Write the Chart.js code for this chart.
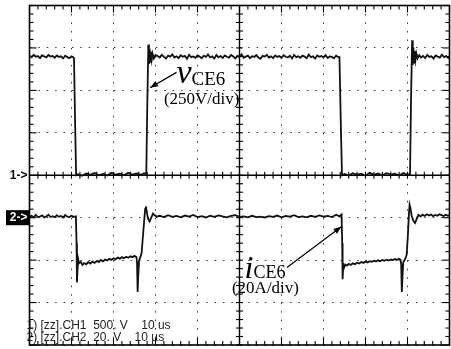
<!DOCTYPE html>
<html>
<head>
<meta charset="utf-8">
<script src="https://cdn.jsdelivr.net/npm/chart.js@4/dist/chart.umd.min.js"></script>
<style>
html,body{margin:0;padding:0;background:#fff;}
canvas{display:block;}
</style>
</head>
<body>
<canvas id="c" width="451" height="349"></canvas>
<script>
// ---- axis setup (oscilloscope: 10 us/div, CH1 250 V/div, CH2 20 A/div) ----
const timeRange = [0, 100];        // us
const timeDiv = 10;                // us per division
const voltRange = [-1000, 1000];   // V (CH1 zero at centre)
const voltDiv = 250;               // V per division
const ampRange = [-60, 100];       // A (CH2 zero one division below centre)

// ---- CH1: v_CE6 trace [time us, volts] ----
const vceTrace = [
  [0,705],[0.5,695],[1,710],[1.5,698],[2,702],[2.5,690],[3,707],[3.5,700],[4,694],[4.5,708],
  [5,699],[5.5,703],[6,692],[6.5,706],[7,697],[7.5,701],[8,688],[8.5,704],[9,696],[9.5,690],
  [10,700],[10.4,695],[10.6,690],[10.85,320],[11.1,0],
  [11.5,6],[12.5,-3],[13.5,10],[14.5,2],[15.5,13],[16.5,0],[17.5,8],[18.5,-2],[19.5,14],[20.5,3],
  [21.5,9],[22.5,0],[23.5,15],[24.5,4],[25.5,10],[26.5,2],[27.3,12],[27.8,5],
  [28.05,420],[28.3,770],[28.45,655],[28.6,745],[28.75,668],[28.9,728],[29.1,682],[29.3,716],[29.6,688],[30,708],
  [30.5,702],[31,694],[31.5,709],[32,697],[32.5,688],[33,705],[33.5,699],[34,712],[34.5,693],[35,701],
  [35.5,690],[36,707],[36.5,698],[37,703],[37.5,686],[38,710],[38.5,696],[39,700],[39.5,692],[40,706],
  [40.5,699],[41,689],[41.5,704],[42,697],[42.5,711],[43,694],[43.5,700],[44,687],[44.5,708],[45,695],
  [45.5,702],[46,691],[46.5,706],[47,698],[47.5,693],[48,709],[48.5,700],[49,688],[49.5,703],[50,696],
  [50.5,712],[51,692],[51.5,699],[52,705],[52.5,690],[53,701],[53.5,697],[54,708],[54.5,694],[55,686],
  [55.5,703],[56,699],[56.5,710],[57,693],[57.5,700],[58,689],[58.5,706],[59,697],[59.5,702],[60,691],
  [60.5,707],[61,698],[61.5,694],[62,704],[62.5,688],[63,709],[63.5,696],[64,701],[64.5,692],[65,705],
  [65.5,699],[66,690],[66.5,711],[67,695],[67.5,700],[68,687],[68.5,706],[69,698],[69.5,703],[70,694],
  [70.5,708],[71,691],[71.5,700],[72,697],[72.5,689],[73,704],[73.5,696],
  [73.8,696],[74.1,330],[74.4,0],
  [75,8],[76,-2],[77,12],[78,3],[79,9],[80,-3],[81,14],[82,2],[83,10],[84,0],
  [85,12],[86,4],[87,9],[88,-2],[89,13],[90,3],[90.6,8],
  [90.85,460],[91.1,795],[91.25,650],[91.4,752],[91.55,664],[91.7,732],[91.9,680],[92.1,718],[92.4,689],[92.8,707],
  [93.2,694],[93.7,703],[94.2,690],[94.7,709],[95.2,697],[95.7,701],[96.2,688],[96.7,706],[97.2,699],[97.7,693],
  [98.2,710],[98.7,696],[99.2,702],[99.7,691],[100,700]
];

// ---- CH2: i_CE6 trace [time us, amps] ----
const iceTrace = [
  [0,0.4],[0.5,0.9],[1,0.2],[1.5,1.3],[2,0.3],[2.5,0.5],[3,1.1],[3.5,0.1],[4,0.6],[4.5,1.4],
  [5,0.3],[5.5,0.7],[6,0.2],[6.5,1.2],[7,0.4],[7.5,0.8],[8,0.1],[8.5,1.3],[9,0.5],[9.5,0.3],
  [10,0.9],[10.5,0.4],[11.05,0.6],
  [11.2,-12],[11.3,-30.5],[11.45,-24],[11.6,-19.5],[11.8,-21.5],[12.2,-20.8],[12.6,-22.3],[13,-21.4],[13.5,-22],[14,-20.9],
  [14.5,-21.6],[15,-20.7],[15.5,-21.3],[16,-20.4],[16.5,-20.9],[17,-19.9],[17.5,-20.6],[18,-19.7],[18.5,-20.2],[19,-19.4],
  [19.5,-19.9],[20,-19.1],[20.5,-19.6],[21,-18.8],[21.5,-19.3],[22,-18.6],[22.5,-19.1],[23,-18.4],[23.5,-18.9],[24,-18.2],
  [24.5,-18.6],[25,-18.0],[25.45,-18.5],
  [25.6,-21],[25.75,-35],[25.9,-27],[26.1,-20],[26.4,-18.6],[26.7,-16.5],[27.0,-9],[27.3,-1.5],[27.55,4.2],[27.7,5.3],
  [27.9,3.2],[28.2,-0.4],[28.6,-1.8],[29.0,0.1],[29.4,1.9],[29.8,1.1],[30.3,0.5],
  [31,0.9],[32,0.3],[33,1.2],[34,0.4],[35,0.8],[36,0.2],[37,1.0],[38,0.5],[39,1.3],[40,0.3],
  [41,0.7],[42,0.1],[43,0.9],[44,0.4],[45,1.1],[46,0.6],[47,0.2],[48,0.8],[49,1.2],[50,0.4],
  [51,0.6],[52,0.2],[53,0.9],[54,0.3],[55,0.5],[56,0.1],[57,0.7],[58,0.4],[59,1.0],[60,0.2],
  [61,0.8],[62,0.5],[63,1.2],[64,0.3],[65,0.6],[66,0.2],[67,0.9],[68,0.4],[69,1.1],[70,0.5],
  [71,0.8],[72,0.3],[73,1.4],[73.8,0.6],[74.3,1.5],
  [74.45,-12],[74.55,-29],[74.7,-22],[74.9,-23.5],[75.2,-22],[75.6,-22.6],[76,-21.8],[76.5,-22.3],[77,-21.5],[77.5,-21.9],
  [78,-21.2],[78.5,-21.6],[79,-20.9],[79.5,-21.3],[80,-20.7],[80.5,-21.1],[81,-20.5],[81.5,-20.8],[82,-20.3],[82.5,-20.7],
  [83,-20.1],[83.5,-20.5],[84,-19.9],[84.5,-20.3],[85,-19.8],[85.5,-20.2],[86,-19.7],[86.5,-20.0],[87,-19.5],[87.5,-19.9],
  [88,-19.4],[88.35,-19.8],
  [88.5,-22],[88.65,-35],[88.8,-28],[89.0,-21],[89.4,-19.6],[89.8,-17.5],[90.1,-8],[90.35,2],[90.5,6.1],[90.7,4.5],
  [91.0,0.8],[91.4,-1.5],[91.8,-2.5],[92.2,-0.6],[92.6,1.3],[93.1,0.6],
  [93.6,1.4],[94.1,0.8],[94.6,1.6],[95.1,1.0],[95.6,1.5],[96.1,0.7],[96.6,1.3],[97.1,0.9],[97.6,1.6],[98.1,1.2],
  [98.6,0.8],[99.1,1.4],[99.6,0.9],[100,1.2]
];

// ---- texts ----
const ch1Marker = '1->';
const ch2Marker = '2->';
const statusLines = ['1) [zz].CH1  500. V    10 us', '2) [zz].CH2  20. V    10 \u00b5s'];
const vLabel = { main: 'v', sub: 'CE6', scale: '(250V/div)' };
const iLabel = { main: 'i', sub: 'CE6', scale: '(20A/div)' };

// annotation anchors in data units
const vLabelAt = [35.0, 545];       // t, V
const vScaleAt = [32.0, 418];
const vArrow = { from: [35.0, 606], to: [28.7, 516] };
const iLabelAt = [51.2, -28.5];     // t, A
const iScaleAt = [48.2, -35.5];
const iArrow = { from: [61.3, -23.5], to: [74.3, -4.2] };

const minorStep = { t: 2, v: 50 };  // 1/5 division

function seg(ctx, x1, y1, x2, y2){ ctx.beginPath(); ctx.moveTo(x1,y1); ctx.lineTo(x2,y2); ctx.stroke(); }
function arrow(ctx, x1, y1, x2, y2){
  seg(ctx, x1, y1, x2, y2);
  const a = Math.atan2(y2-y1, x2-x1), L = 8, w = 3;
  ctx.beginPath();
  ctx.moveTo(x2, y2);
  ctx.lineTo(x2 - L*Math.cos(a) + w*Math.sin(a), y2 - L*Math.sin(a) - w*Math.cos(a));
  ctx.lineTo(x2 - L*Math.cos(a) - w*Math.sin(a), y2 - L*Math.sin(a) + w*Math.cos(a));
  ctx.closePath(); ctx.fill();
}

const scopeFrame = {
  id: 'scopeFrame',
  beforeDatasetsDraw(chart){
    const {ctx, chartArea:a} = chart;
    const x = chart.scales.x, yv = chart.scales.yv;
    ctx.save();
    ctx.strokeStyle = '#000';
    const cx = x.getPixelForValue((timeRange[0]+timeRange[1])/2);
    const cy = yv.getPixelForValue(0);
    ctx.lineWidth = 1.4;
    seg(ctx, cx, a.top, cx, a.bottom);
    seg(ctx, a.left, cy, a.right, cy);
    ctx.lineWidth = 1.1;
    for (let t = timeRange[0]; t <= timeRange[1]; t += minorStep.t){
      const px = x.getPixelForValue(t);
      const L = (t % timeDiv === 0) ? 7 : 4;
      seg(ctx, px, a.top, px, a.top + L);
      seg(ctx, px, a.bottom - L, px, a.bottom);
      seg(ctx, px, cy - 3.5, px, cy + 3.5);
    }
    for (let v = voltRange[0]; v <= voltRange[1]; v += minorStep.v){
      const py = yv.getPixelForValue(v);
      const L = (v % voltDiv === 0) ? 7 : 4;
      seg(ctx, a.left, py, a.left + L, py);
      seg(ctx, a.right - L, py, a.right, py);
      seg(ctx, cx - 3.5, py, cx + 3.5, py);
    }
    ctx.lineWidth = 1.6;
    ctx.strokeRect(a.left, a.top, a.right - a.left, a.bottom - a.top);
    ctx.restore();
  },
  afterDatasetsDraw(chart){
    const {ctx, chartArea:a} = chart;
    const x = chart.scales.x, yv = chart.scales.yv, yi = chart.scales.yi;
    ctx.save();
    // channel markers
    ctx.fillStyle = '#000';
    ctx.font = 'bold 12px "Liberation Sans", Arial, sans-serif';
    ctx.textBaseline = 'middle';
    ctx.textAlign = 'right';
    ctx.fillText(ch1Marker, a.left - 2, yv.getPixelForValue(0));
    const y2 = yi.getPixelForValue(0);
    ctx.fillRect(6, y2 - 7.5, a.left - 6, 15);
    ctx.fillStyle = '#fff';
    ctx.fillText(ch2Marker, a.left - 2, y2);
    // status lines
    ctx.fillStyle = '#222';
    ctx.textAlign = 'left';
    ctx.textBaseline = 'alphabetic';
    ctx.font = '12px "Liberation Sans", Arial, sans-serif';
    ctx.fillText(statusLines[0], a.left - 3, a.bottom - 16);
    ctx.fillText(statusLines[1], a.left - 3, a.bottom - 4);
    // vCE6 annotation
    ctx.fillStyle = '#000'; ctx.strokeStyle = '#000'; ctx.lineWidth = 1.2;
    let px = x.getPixelForValue(vLabelAt[0]), py = yv.getPixelForValue(vLabelAt[1]);
    ctx.font = 'italic 34px "Liberation Serif", "Times New Roman", serif';
    ctx.fillText(vLabel.main, px, py);
    let w = ctx.measureText(vLabel.main).width;
    ctx.font = '19px "Liberation Serif", "Times New Roman", serif';
    ctx.fillText(vLabel.sub, px + w, py + 2);
    ctx.font = '17px "Liberation Serif", "Times New Roman", serif';
    ctx.fillText(vLabel.scale, x.getPixelForValue(vScaleAt[0]), yv.getPixelForValue(vScaleAt[1]));
    arrow(ctx, x.getPixelForValue(vArrow.from[0]), yv.getPixelForValue(vArrow.from[1]),
               x.getPixelForValue(vArrow.to[0]), yv.getPixelForValue(vArrow.to[1]));
    // iCE6 annotation
    px = x.getPixelForValue(iLabelAt[0]); py = yi.getPixelForValue(iLabelAt[1]);
    ctx.font = 'italic 32px "Liberation Serif", "Times New Roman", serif';
    ctx.fillText(iLabel.main, px, py);
    w = ctx.measureText(iLabel.main).width;
    ctx.font = '18px "Liberation Serif", "Times New Roman", serif';
    ctx.fillText(iLabel.sub, px + w, py);
    ctx.font = '17px "Liberation Serif", "Times New Roman", serif';
    ctx.fillText(iLabel.scale, x.getPixelForValue(iScaleAt[0]), yi.getPixelForValue(iScaleAt[1]));
    arrow(ctx, x.getPixelForValue(iArrow.from[0]), yi.getPixelForValue(iArrow.from[1]),
               x.getPixelForValue(iArrow.to[0]), yi.getPixelForValue(iArrow.to[1]));
    ctx.restore();
  }
};

const toXY = arr => arr.map(p => ({x: p[0], y: p[1]}));

new Chart(document.getElementById('c'), {
  type: 'line',
  data: {
    datasets: [
      { label: 'vCE6', data: toXY(vceTrace), yAxisID: 'yv', borderColor: '#111', borderWidth: 1.8,
        pointRadius: 0, tension: 0, fill: false },
      { label: 'iCE6', data: toXY(iceTrace), yAxisID: 'yi', borderColor: '#111', borderWidth: 1.8,
        pointRadius: 0, tension: 0, fill: false }
    ]
  },
  options: {
    responsive: false,
    animation: false,
    layout: { padding: { left: 29.5, top: 5.5, right: 1.5, bottom: 4 } },
    plugins: { legend: { display: false }, tooltip: { enabled: false } },
    scales: {
      x: { type: 'linear', min: timeRange[0], max: timeRange[1],
           ticks: { display: false, stepSize: timeDiv },
           grid: { color: '#333', lineWidth: 1, drawTicks: false },
           border: { display: false, dash: [1.5, 6.99] } },
      yv: { type: 'linear', position: 'left', min: voltRange[0], max: voltRange[1],
            ticks: { display: false, stepSize: voltDiv },
            grid: { color: '#333', lineWidth: 1, drawTicks: false },
            border: { display: false, dash: [1.5, 6.89] } },
      yi: { type: 'linear', position: 'right', min: ampRange[0], max: ampRange[1], display: false }
    }
  },
  plugins: [scopeFrame]
});
</script>
</body>
</html>
